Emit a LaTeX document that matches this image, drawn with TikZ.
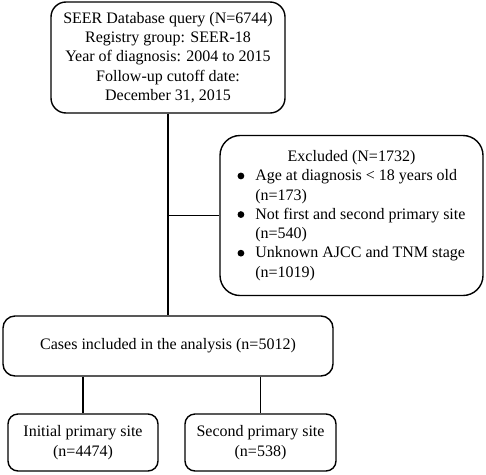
\documentclass[tikz,border=0pt]{standalone}
\usepackage{fontspec}
\setmainfont{Liberation Serif}
\newcommand{\bulletdot}{\tikz[baseline={(0,-0.3em)}]\fill (0,0) circle (3.4pt);}
\begin{document}
\begin{tikzpicture}[x=1pt,y=-1pt,
  box/.style={draw, line width=1.4pt, rounded corners=#1, align=center, inner sep=0pt,
    font=\fontsize{16}{19.3}\selectfont},
  box/.default=14pt,
  conn/.style={line width=1.4pt}]
\useasboundingbox (0,0) rectangle (486,474);
\node[box=15pt, minimum width=234pt, minimum height=111pt] (query) at (168,57.5)
  {SEER Database query (N=6744)\\Registry group: SEER-18\\Year of diagnosis: 2004 to 2015\\Follow-up cutoff date:\\December 31, 2015};
\node[box=20pt, minimum width=263pt, minimum height=160pt] (excl) at (351.5,215.5)
  {\begin{tabular}{@{}l@{\hspace{11pt}}l@{}}
   \multicolumn{2}{c}{Excluded (N=1732)}\\
   \bulletdot & Age at diagnosis < 18 years old\\
   & (n=173)\\
   \bulletdot & Not first and second primary site\\
   & (n=540)\\
   \bulletdot & Unknown AJCC and TNM stage\\
   & (n=1019)
   \end{tabular}};
\node[box=12pt, minimum width=330pt, minimum height=60pt] (cases) at (168,346)
  {Cases included in the analysis (n=5012)};
\node[box=10pt, minimum width=150pt, minimum height=57pt] (init) at (83,442.5)
  {Initial primary site\\(n=4474)};
\node[box=10pt, minimum width=151pt, minimum height=57pt] (second) at (260.5,442.5)
  {Second primary site\\(n=538)};
\coordinate (branch) at (query.south |- excl.west);
\draw[conn] (query.south) -- (cases.north);
\draw[conn] (branch) -- (excl.west);
\draw[conn] (init.north |- cases.south) -- (init.north);
\draw[conn] (second.north |- cases.south) -- (second.north);
\end{tikzpicture}
\end{document}
